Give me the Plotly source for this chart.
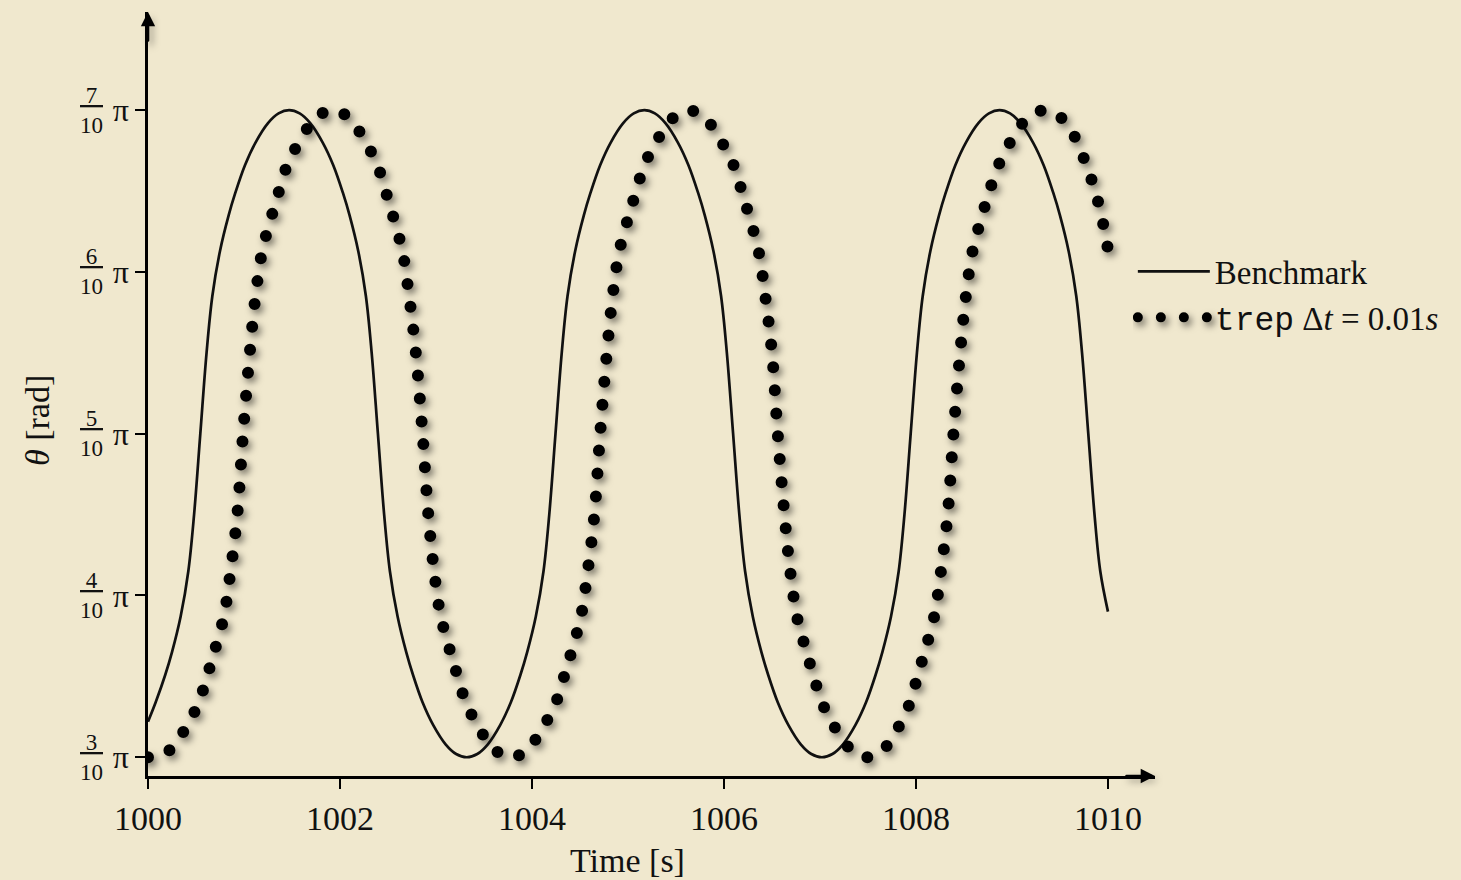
import plotly.graph_objects as go

# ---------------- data ----------------
bench_t = [1000.00, 1000.08, 1000.18, 1000.25, 1000.34, 1000.42, 1000.48, 1000.545, 1000.61, 1000.67,
           1000.75, 1000.84, 1000.91, 1001.01, 1001.12, 1001.25, 1001.36, 1001.47,
           1001.58, 1001.69, 1001.82, 1001.93, 1002.03, 1002.10, 1002.19, 1002.27, 1002.33, 1002.395,
           1002.46, 1002.52, 1002.60, 1002.69, 1002.76, 1002.86, 1002.97, 1003.10, 1003.21, 1003.32,
           1003.43, 1003.54, 1003.67, 1003.78, 1003.88, 1003.95, 1004.04, 1004.12, 1004.18, 1004.245,
           1004.31, 1004.37, 1004.45, 1004.54, 1004.61, 1004.71, 1004.82, 1004.95, 1005.06, 1005.17,
           1005.28, 1005.39, 1005.52, 1005.63, 1005.73, 1005.80, 1005.89, 1005.97, 1006.03, 1006.095,
           1006.16, 1006.22, 1006.30, 1006.39, 1006.46, 1006.56, 1006.67, 1006.80, 1006.91, 1007.02,
           1007.13, 1007.24, 1007.37, 1007.48, 1007.58, 1007.65, 1007.74, 1007.82, 1007.88, 1007.945,
           1008.01, 1008.07, 1008.15, 1008.24, 1008.31, 1008.41, 1008.52, 1008.65, 1008.76, 1008.87,
           1008.98, 1009.09, 1009.22, 1009.33, 1009.43, 1009.50, 1009.59, 1009.67, 1009.73, 1009.795,
           1009.86, 1009.92, 1010.00]
bench_theta = [0.322, 0.334, 0.351, 0.365, 0.387, 0.415, 0.450, 0.500, 0.550, 0.585,
               0.613, 0.635, 0.649, 0.666, 0.680, 0.692, 0.698, 0.700,
               0.698, 0.692, 0.680, 0.666, 0.649, 0.635, 0.613, 0.585, 0.550, 0.500,
               0.450, 0.415, 0.387, 0.365, 0.351, 0.334, 0.320, 0.308, 0.302, 0.300,
               0.302, 0.308, 0.320, 0.334, 0.351, 0.365, 0.387, 0.415, 0.450, 0.500,
               0.550, 0.585, 0.613, 0.635, 0.649, 0.666, 0.680, 0.692, 0.698, 0.700,
               0.698, 0.692, 0.680, 0.666, 0.649, 0.635, 0.613, 0.585, 0.550, 0.500,
               0.450, 0.415, 0.387, 0.365, 0.351, 0.334, 0.320, 0.308, 0.302, 0.300,
               0.302, 0.308, 0.320, 0.334, 0.351, 0.365, 0.387, 0.415, 0.450, 0.500,
               0.550, 0.585, 0.613, 0.635, 0.649, 0.666, 0.680, 0.692, 0.698, 0.700,
               0.698, 0.692, 0.680, 0.666, 0.649, 0.635, 0.613, 0.585, 0.550, 0.500,
               0.450, 0.415, 0.390]

trep_t = [1000.00, 1000.17, 1000.28, 1000.41, 1000.53, 1000.62, 1000.69, 1000.79, 1000.86, 1000.93,
          1000.99, 1001.06, 1001.12, 1001.19, 1001.29, 1001.36, 1001.45, 1001.57, 1001.70, 1001.81,
          1001.92,
          1002.03, 1002.14, 1002.27, 1002.39, 1002.48, 1002.55, 1002.65, 1002.72, 1002.79, 1002.86,
          1002.92, 1002.98, 1003.05, 1003.15, 1003.22, 1003.31, 1003.43, 1003.56, 1003.67, 1003.78,
          1003.89, 1004.00, 1004.13, 1004.25, 1004.34, 1004.41, 1004.51, 1004.58, 1004.65, 1004.71,
          1004.78, 1004.84, 1004.91, 1005.01, 1005.08, 1005.17, 1005.29, 1005.42, 1005.53, 1005.63,
          1005.74, 1005.85, 1005.98, 1006.10, 1006.19, 1006.26, 1006.36, 1006.43, 1006.50, 1006.56,
          1006.63, 1006.69, 1006.76, 1006.86, 1006.93, 1007.02, 1007.14, 1007.27, 1007.38, 1007.49,
          1007.60, 1007.71, 1007.83, 1007.94, 1008.02, 1008.09, 1008.19, 1008.26, 1008.33, 1008.39,
          1008.46, 1008.52, 1008.59, 1008.69, 1008.76, 1008.86, 1008.98, 1009.11, 1009.23, 1009.34,
          1009.45, 1009.55, 1009.65, 1009.75, 1009.84, 1009.92, 1010.00]
trep_theta = [0.300, 0.302, 0.308, 0.320, 0.334, 0.351, 0.365, 0.387, 0.415, 0.450,
              0.500, 0.550, 0.585, 0.613, 0.635, 0.649, 0.666, 0.680, 0.692, 0.698,
              0.700,
              0.698, 0.692, 0.680, 0.666, 0.649, 0.635, 0.613, 0.585, 0.550, 0.500,
              0.450, 0.415, 0.387, 0.365, 0.351, 0.334, 0.320, 0.308, 0.302, 0.300,
              0.302, 0.308, 0.320, 0.334, 0.351, 0.365, 0.387, 0.415, 0.450, 0.500,
              0.550, 0.585, 0.613, 0.635, 0.649, 0.666, 0.680, 0.692, 0.698, 0.700,
              0.698, 0.692, 0.680, 0.666, 0.649, 0.635, 0.613, 0.585, 0.550, 0.500,
              0.450, 0.415, 0.387, 0.365, 0.351, 0.334, 0.320, 0.308, 0.302, 0.300,
              0.302, 0.308, 0.320, 0.334, 0.351, 0.365, 0.387, 0.415, 0.450, 0.500,
              0.550, 0.585, 0.613, 0.635, 0.649, 0.666, 0.680, 0.692, 0.698, 0.700,
              0.698, 0.693, 0.684, 0.670, 0.655, 0.638, 0.614]

x_ticks = [1000, 1002, 1004, 1006, 1008, 1010]
y_ticks = [0.3, 0.4, 0.5, 0.6, 0.7]
y_numerators = ["3", "4", "5", "6", "7"]
y_denominator = "10"

# ---------------- style ----------------
BG = "#F0E8CE"
INK = "#111111"
SERIF = "Liberation Serif, Times New Roman, serif"
X_RANGE = [1000, 1010.49]
Y_RANGE = [0.2884, 0.7607]

fig = go.Figure()
fig.add_trace(go.Scatter(
    x=bench_t, y=bench_theta, mode="lines", name="Benchmark",
    line=dict(color=INK, width=2.7, shape="spline", smoothing=1.0),
    hoverinfo="skip"))
fig.add_trace(go.Scatter(
    x=trep_t, y=trep_theta, mode="lines",
    name="<span style='font-family:Liberation Mono'>trep</span> Δ<i>t</i> = 0.01<i>s</i>",
    line=dict(color="#000000", width=12, dash="0px,23px", shape="spline", smoothing=1.0),
    hoverinfo="skip"))

axis_common = dict(showgrid=False, zeroline=False, tickcolor="#000", tickwidth=2.4, ticklen=10)

fig.update_layout(
    width=1461, height=880,
    margin=dict(l=148, r=306, t=12, b=104, autoexpand=False),
    paper_bgcolor=BG, plot_bgcolor=BG,
    font=dict(family=SERIF, size=34, color=INK),
    showlegend=True,
    legend=dict(x=0.978, y=0.697, xanchor="left", yanchor="top", bgcolor="rgba(0,0,0,0)",
                font=dict(family=SERIF, size=33, color=INK), itemwidth=72, tracegroupgap=0),
    xaxis=dict(range=X_RANGE, tickvals=x_ticks, ticktext=[str(v) for v in x_ticks],
               ticks="outside", showline=True, linecolor="#000", linewidth=2.6,
               tickfont=dict(size=34), **axis_common),
    yaxis=dict(range=Y_RANGE, tickvals=y_ticks, ticktext=["π"] * len(y_ticks),
               ticks="outside", showline=True, linecolor="#000", linewidth=2.6,
               tickfont=dict(size=32), **axis_common),
    xaxis2=dict(range=X_RANGE, tickvals=x_ticks, ticks="inside", showticklabels=False,
                overlaying="x", anchor="y", side="bottom", showline=False, **axis_common),
    yaxis2=dict(range=Y_RANGE, tickvals=y_ticks, ticks="inside", showticklabels=False,
                overlaying="y", anchor="x", side="left", showline=False, **axis_common),
)

# axis titles
fig.add_annotation(xref="paper", yref="paper", x=0.4757, y=-0.11, xanchor="center", yanchor="middle",
                   text="Time [s]", showarrow=False, font=dict(family=SERIF, size=34, color=INK))
fig.add_annotation(xref="paper", yref="paper", x=-0.109, y=0.465, xanchor="center", yanchor="middle",
                   text="<i>θ</i> [rad]", textangle=-90, showarrow=False,
                   font=dict(family=SERIF, size=34, color=INK))

# stacked fractions of the y tick labels
for v, num in zip(y_ticks, y_numerators):
    fig.add_annotation(xref="paper", yref="y", x=-0.056, y=v, xanchor="center", yanchor="middle",
                       text="<u>\u00a0" + num + "\u00a0</u><br>" + y_denominator,
                       showarrow=False, font=dict(family=SERIF, size=23, color=INK))

# arrow heads at axis ends
fig.add_annotation(xref="paper", yref="paper", x=1, y=0, ax=-30, ay=0, text="", showarrow=True,
                   arrowhead=2, arrowsize=1.1, arrowwidth=2.6, arrowcolor="#000")
fig.add_annotation(xref="paper", yref="paper", x=0, y=1, ax=0, ay=30, text="", showarrow=True,
                   arrowhead=2, arrowsize=1.1, arrowwidth=2.6, arrowcolor="#000")

post = """
document.body.style.margin = '0';
document.body.style.background = '#F0E8CE';
document.body.style.overflow = 'hidden';
var gd = document.getElementById('{plot_id}');
function fixDots(){
  gd.querySelectorAll('path').forEach(function(p){
    var d = p.style.strokeDasharray || '';
    if (d.indexOf('0px') === 0) {
      p.style.strokeLinecap = 'round';
      p.style.filter = 'drop-shadow(3px 4px 3.5px rgba(0,0,0,0.5))';
    }
  });
}
fixDots();
gd.on('plotly_afterplot', fixDots);
"""

fig.write_html("out.html", config={"displayModeBar": False}, post_script=post)
